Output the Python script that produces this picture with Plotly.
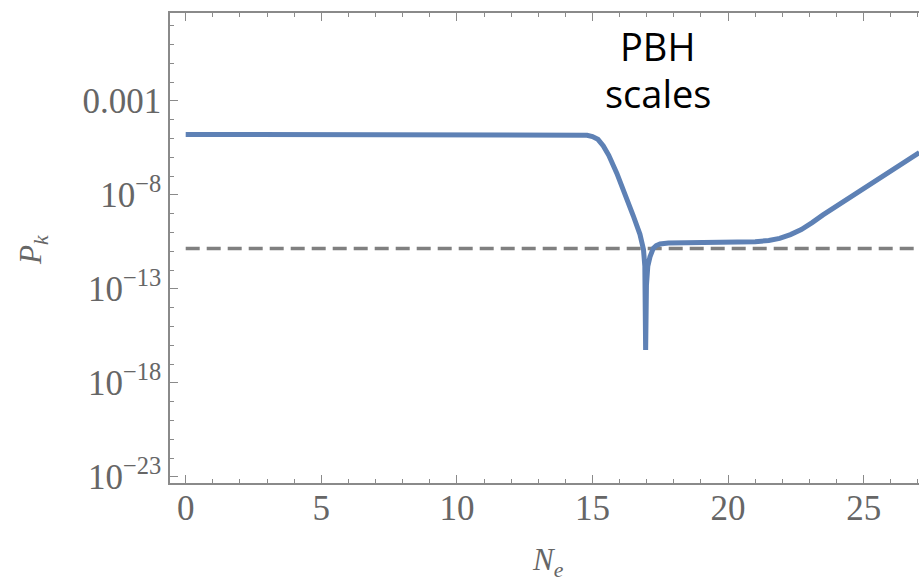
import plotly.graph_objects as go

# ---- data ----
Ne = [0.0, 4.0, 8.0, 12.0, 14.0, 14.5, 14.8, 15.0, 15.2, 15.4, 15.6, 15.9, 16.2, 16.5, 16.75,
      16.88, 16.93, 16.96, 16.99, 17.04, 17.12, 17.24, 17.35, 17.49, 17.8, 18.1, 19.5, 20.5,
      21.0, 21.5, 21.9, 22.3, 22.7, 23.1, 23.5, 27.05]
Pk = [1.62e-5, 1.62e-5, 1.62e-5, 1.62e-5, 1.62e-5, 1.58e-5, 1.48e-5, 1.26e-5, 8.9e-6, 4.0e-6,
      1.26e-6, 1.38e-7, 1.17e-8, 7.9e-10, 7.9e-11, 1.26e-11, 1.6e-12, 5.5e-17, 1.6e-13,
      1.6e-12, 5.0e-12, 1.4e-11, 2.0e-11, 2.4e-11, 2.7e-11, 2.75e-11, 2.8e-11, 3.0e-11,
      3.2e-11, 3.7e-11, 4.8e-11, 7.6e-11, 1.41e-10, 3.3e-10, 8.5e-10, 1.78e-6]
ref_x = [0.0, 27.5]
ref_y = [1.4e-11, 1.4e-11]

x_major = [0, 5, 10, 15, 20, 25]
x_minor = list(range(0, 28))
y_major = [1e-3, 1e-8, 1e-13, 1e-18, 1e-23]
y_major_text = ["0.001", "10<sup>\u22128</sup>", "10<sup>\u221213</sup>",
                "10<sup>\u221218</sup>", "10<sup>\u221223</sup>"]
y_minor = [10.0 ** e for e in range(-23, 2)]

AX = "#8a8a8a"
TXT = "#666666"

fig = go.Figure()
fig.add_trace(go.Scatter(x=ref_x, y=ref_y, mode="lines",
                         line=dict(color="#808080", width=3.5, dash="14px,7px"),
                         hoverinfo="skip", showlegend=False))
fig.add_trace(go.Scatter(x=Ne, y=Pk, mode="lines",
                         line=dict(color="#5E81B5", width=5),
                         showlegend=False))

fig.update_layout(
    width=919, height=581,
    margin=dict(l=170, r=0, t=13, b=98),
    paper_bgcolor="white", plot_bgcolor="white",
    font=dict(family="Liberation Serif", color=TXT, size=35),
    xaxis=dict(range=[-0.579, 27.04], tickvals=x_major, ticktext=[str(v) for v in x_major],
               showgrid=False, zeroline=False, showline=True, linecolor=AX, linewidth=1.5,
               mirror="ticks", ticks="inside", ticklen=8, tickwidth=1.2, tickcolor=AX,
               ticklabelstandoff=-7,
               tickfont=dict(family="Liberation Serif", size=35, color=TXT),
               minor=dict(tickvals=x_minor, ticks="inside", ticklen=4.5, tickwidth=1,
                          tickcolor=AX, showgrid=False)),
    yaxis=dict(type="log", range=[-23.33, 1.67], tickvals=y_major, ticktext=y_major_text,
               showgrid=False, zeroline=False, showline=True, linecolor=AX, linewidth=1.5,
               ticks="inside", ticklen=8, tickwidth=1.2, tickcolor=AX,
               tickfont=dict(family="Liberation Serif", size=35, color=TXT),
               minor=dict(tickvals=y_minor, ticks="inside", ticklen=4.5, tickwidth=1,
                          tickcolor=AX, showgrid=False)),
    annotations=[
        dict(text="<i>N</i><sub><i>e</i></sub>", xref="paper", yref="paper",
             x=(548 - 170) / 749, y=(483 - 562) / 470, showarrow=False,
             xanchor="center", yanchor="middle",
             font=dict(family="Liberation Serif", size=31, color=TXT)),
        dict(text="<i>P</i><sub><i>k</i></sub>", xref="paper", yref="paper",
             x=(33 - 170) / 749, y=(483 - 250) / 470, showarrow=False, textangle=-90,
             xanchor="center", yanchor="middle",
             font=dict(family="Liberation Serif", size=31, color=TXT)),
        dict(text="PBH", xref="x", yref="paper", x=17.4, y=(483 - 46) / 470,
             showarrow=False, xanchor="center", yanchor="middle",
             font=dict(family="Open Sans", size=38, color="black")),
        dict(text="scales", xref="x", yref="paper", x=17.4, y=(483 - 93) / 470,
             showarrow=False, xanchor="center", yanchor="middle",
             font=dict(family="Open Sans", size=38, color="black")),
    ],
)

fig.write_html("out.html")
